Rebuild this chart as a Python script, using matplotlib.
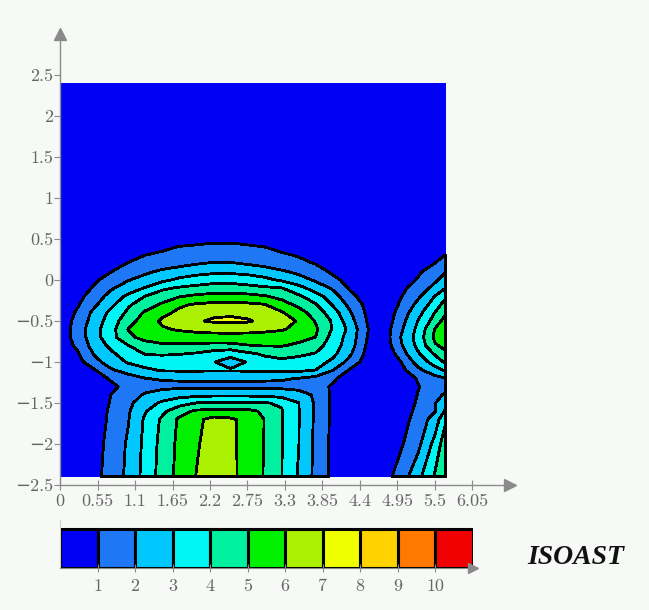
import numpy as np
import matplotlib.pyplot as plt

# grid nodes of the ISOAST field
x_nodes = [0, 0.25, 0.5, 0.75, 1.0, 1.25, 1.5, 1.75, 2.0, 2.25, 2.5, 2.75,
           3.0, 3.25, 3.5, 3.75, 4.0, 4.25, 4.5, 4.75, 5.0, 5.25, 5.5, 5.65]
y_nodes = [-2.4, -2.0, -1.7, -1.6, -1.5, -1.4, -1.3, -1.2, -1.1, -1.0, -0.9,
           -0.8, -0.7, -0.6, -0.5, -0.4, -0.3, -0.2, -0.1, 0.0, 0.1, 0.2,
           0.3, 0.4, 0.5, 0.6, 2.4]

# one row per y node, bottom to top
isoast = [
    [0, 0.1, 0.7, 1.39, 2.23, 3.35, 4.42, 5.31, 6.03, 6.55, 6.22, 5.64, 4.93, 4.02, 2.9, 1.74, 0.76, 0.1, 0, 0.58, 1.46, 2.7, 4.13, 4.8],
    [0, 0.05, 0.62, 1.31, 2.14, 3.26, 4.33, 5.24, 5.89, 6.45, 6.2, 5.67, 4.96, 4.04, 3.02, 1.77, 0.76, 0.1, 0, 0.1, 0.88, 1.72, 3.33, 4.58],
    [0, 0, 0.52, 1.18, 1.94, 3.16, 4.17, 5.15, 5.78, 6.3, 6.15, 5.71, 4.98, 4.07, 3.04, 1.82, 0.79, 0.1, 0, 0, 0.62, 1.36, 2.47, 3.8],
    [0, 0, 0.5, 1.15, 1.88, 2.93, 3.77, 4.65, 5.15, 5.28, 5.3, 5.25, 4.84, 4.07, 3.04, 1.82, 0.8, 0.1, 0, 0, 0.55, 1.2, 1.94, 3.1],
    [0, 0, 0.35, 1.08, 1.78, 2.53, 3.18, 3.6, 4.02, 4.1, 4.1, 4.1, 4.05, 3.9, 3.02, 1.85, 0.8, 0.1, 0, 0, 0.4, 1.12, 1.95, 2.75],
    [0, 0, 0.3, 1.01, 1.6, 2.1, 2.4, 2.65, 2.75, 2.8, 2.8, 2.8, 2.75, 2.6, 2.4, 1.85, 0.8, 0.1, 0, 0, 0.35, 1.03, 1.75, 2.1],
    [0, 0, 0.1, 0.75, 1.35, 1.65, 1.78, 1.8, 1.8, 1.8, 1.8, 1.8, 1.8, 1.78, 1.68, 1.5, 0.85, 0.2, 0, 0, 0.3, 0.95, 1.4, 1.6],
    [0, 0, 0.45, 1.15, 1.6, 1.98, 2.08, 2.1, 2.1, 2.1, 2.1, 2.1, 2.1, 2.08, 1.97, 1.7, 1.2, 0.45, 0.1, 0, 0.4, 1.08, 1.65, 1.95],
    [0.05, 0.2, 0.9, 1.88, 2.37, 2.8, 3.08, 3.12, 3.12, 3.1, 3.1, 3.12, 3.15, 3.2, 3.18, 2.98, 2.02, 0.9, 0.3, 0, 0.7, 1.75, 2.65, 3.1],
    [0.15, 0.6, 1.65, 2.47, 3.1, 3.45, 3.5, 3.45, 3.35, 3.05, 2.6, 3.05, 3.6, 3.8, 3.7, 3.45, 2.77, 1.67, 0.55, 0.1, 0.97, 2.4, 3.4, 4.15],
    [0.25, 0.85, 2.06, 2.82, 3.49, 4.05, 4.1, 4.05, 3.9, 3.55, 3.3, 3.8, 4.15, 4.3, 4.15, 3.95, 3.26, 2.16, 0.73, 0.0, 1.57, 2.86, 4.12, 4.85],
    [0.35, 1.18, 2.39, 3.24, 3.97, 4.65, 4.85, 4.85, 4.8, 4.72, 4.74, 4.95, 5.05, 5.05, 4.85, 4.42, 3.5, 2.48, 0.9, 0.31, 1.88, 3.25, 4.9, 5.2],
    [0.4, 1.38, 2.58, 3.63, 4.82, 5.25, 5.45, 5.55, 5.58, 5.6, 5.6, 5.6, 5.55, 5.45, 5.25, 4.98, 3.63, 2.6, 1.02, 0.44, 2.02, 3.4, 5.2, 5.6],
    [0.4, 1.4, 2.64, 3.63, 5.03, 5.45, 5.9, 6.1, 6.25, 6.35, 6.4, 6.35, 6.25, 6.1, 5.74, 5.16, 3.91, 2.75, 1.05, 0.45, 1.83, 3.25, 5.05, 5.6],
    [0.35, 1.3, 2.41, 3.52, 4.58, 5.5, 6.15, 6.52, 6.9, 7.12, 7.15, 7.1, 6.79, 6.4, 5.92, 4.92, 3.88, 2.41, 0.99, 0.32, 1.63, 3.02, 4.43, 5.4],
    [0.3, 1.12, 2.25, 3.26, 4.2, 5.15, 5.76, 6.2, 6.55, 6.8, 6.88, 6.7, 6.45, 6.1, 5.43, 4.56, 3.5, 2.12, 0.85, 0.25, 1.43, 2.65, 4.03, 4.85],
    [0.2, 0.87, 1.81, 2.77, 3.86, 4.52, 5.14, 5.86, 6.1, 6.22, 6.25, 6.18, 6.04, 5.44, 4.76, 4.08, 2.91, 1.74, 0.74, 0.1, 1.17, 2.25, 3.5, 4.4],
    [0.15, 0.65, 1.48, 2.36, 3.22, 4.02, 4.47, 4.95, 5.2, 5.35, 5.4, 5.3, 5.1, 4.69, 4.17, 3.43, 2.45, 1.3, 0.54, 0.35, 0.94, 1.82, 3.03, 3.7],
    [0.1, 0.45, 1.11, 1.89, 2.49, 3.07, 3.85, 4.12, 4.28, 4.38, 4.4, 4.3, 4.17, 4.05, 3.35, 2.56, 1.88, 0.9, 0.45, 0.3, 0.75, 1.45, 2.3, 2.98],
    [0.1, 0.45, 0.85, 1.37, 1.95, 2.38, 2.79, 3.2, 3.5, 3.7, 3.72, 3.55, 3.25, 2.87, 2.38, 1.88, 1.2, 0.75, 0.4, 0.2, 0.55, 1.08, 1.85, 2.4],
    [0.05, 0.3, 0.65, 0.99, 1.4, 1.82, 2.2, 2.45, 2.65, 2.8, 2.8, 2.7, 2.5, 2.15, 1.8, 1.35, 0.88, 0.55, 0.25, 0.1, 0.4, 0.85, 1.5, 1.95],
    [0, 0.15, 0.45, 0.75, 1.04, 1.27, 1.5, 1.72, 1.95, 2.08, 2.08, 1.93, 1.7, 1.45, 1.2, 0.97, 0.7, 0.4, 0.15, 0, 0.2, 0.55, 1.02, 1.5],
    [0, 0, 0.15, 0.45, 0.75, 1.01, 1.15, 1.3, 1.45, 1.58, 1.6, 1.5, 1.3, 1.12, 0.95, 0.65, 0.35, 0.1, 0, 0, 0.05, 0.35, 0.75, 1.02],
    [0, 0, 0, 0.05, 0.25, 0.55, 0.85, 1.04, 1.1, 1.2, 1.2, 1.1, 1.01, 0.8, 0.5, 0.2, 0, 0, 0, 0, 0, 0.1, 0.4, 0.7],
    [0, 0, 0, 0, 0, 0.2, 0.45, 0.65, 0.75, 0.8, 0.8, 0.75, 0.65, 0.45, 0.2, 0, 0, 0, 0, 0, 0, 0, 0.2, 0.5],
    [0, 0, 0, 0, 0, 0.05, 0.15, 0.25, 0.3, 0.3, 0.3, 0.3, 0.25, 0.15, 0.05, 0, 0, 0, 0, 0, 0, 0, 0.05, 0.3],
    [0, 0, 0, 0, 0, 0, 0, 0, 0, 0, 0, 0, 0, 0, 0, 0, 0, 0, 0, 0, 0, 0, 0, 0],
]

band_edges = [-1, 1, 2, 3, 4, 5, 6, 7, 8, 9, 10, 11]
band_low = [0, 1, 2, 3, 4, 5, 6, 7, 8, 9, 10]
band_colors = ['#0000f5', '#1e78f5', '#00c8ff', '#00f5f5', '#00f0a0', '#00f000',
               '#aaf000', '#f0ff00', '#ffd200', '#ff7800', '#f00000']
cb_ticks = [1, 2, 3, 4, 5, 6, 7, 8, 9, 10]

x_ticks = [0, 0.55, 1.1, 1.65, 2.2, 2.75, 3.3, 3.85, 4.4, 4.95, 5.5, 6.05]
x_labels = ['0', '0.55', '1.1', '1.65', '2.2', '2.75', '3.3', '3.85', '4.4', '4.95', '5.5', '6.05']
y_ticks = [-2.5, -2, -1.5, -1, -0.5, 0, 0.5, 1, 1.5, 2, 2.5]
y_labels = ['\u22122.5', '\u22122', '\u22121.5', '\u22121', '\u22120.5', '0', '0.5', '1', '1.5', '2', '2.5']

bg = '#f6f9f6'
grey = '#8a8a8a'
tick_font = dict(family=['cmr10', 'DejaVu Serif'], size=13, color='#666666')

fig = plt.figure(figsize=(6.49, 6.10), dpi=100, facecolor=bg)

# main contour plot
ax = fig.add_axes([60 / 649, 125 / 610, 450 / 649, 451 / 610])
ax.set_facecolor(bg)
cs = ax.contourf(x_nodes, y_nodes, np.array(isoast), levels=band_edges, colors=band_colors)
cs.set_edgecolor(['none'] + ['k'] * (len(band_colors) - 1))
cs.set_linewidth(1.3)

ax.set_xlim(0, 6.6)
ax.set_ylim(-2.5, 3.0)
for side in ['top', 'right']:
    ax.spines[side].set_visible(False)
for side in ['left', 'bottom']:
    ax.spines[side].set_color(grey)
    ax.spines[side].set_linewidth(1.0)
ax.plot(1, 0, '>', ms=8, color=grey, transform=ax.transAxes, clip_on=False)
ax.plot(0, 1, '^', ms=8, color=grey, transform=ax.transAxes, clip_on=False)

ax.set_xticks(x_ticks)
ax.set_xticklabels(x_labels, **tick_font)
ax.set_yticks(y_ticks)
ax.set_yticklabels(y_labels, **tick_font)
ax.tick_params(axis='x', direction='inout', length=7, width=0.8, color=grey, pad=3)
ax.tick_params(axis='y', direction='out', length=4, width=0.8, color=grey, pad=1)

# legend bar
cax = fig.add_axes([60 / 649, 42 / 610, 412.7 / 649, 48 / 610])
cax.set_facecolor(bg)
cax.bar(band_low, 1, width=1, align='edge', color=band_colors, edgecolor='k', linewidth=2.2)
cax.set_xlim(0, 11)
cax.set_ylim(0, 1.24)
for side in ['top', 'right']:
    cax.spines[side].set_visible(False)
cax.spines['left'].set_color('#d0d0d0')
cax.spines['bottom'].set_color(grey)
cax.set_yticks([])
cax.set_xticks(cb_ticks)
cax.set_xticklabels([str(t) for t in cb_ticks], **tick_font)
cax.tick_params(axis='x', direction='inout', length=6, width=0.8, color=grey, pad=5)
cax.plot(1, 0, '>', ms=7, color=grey, transform=cax.transAxes, clip_on=False)

fig.text(527 / 649, (610 - 557) / 610, 'ISOAST', family='Liberation Serif',
         weight='bold', style='italic', size=20, va='center', color='#111111')

fig.savefig('out.png', dpi=100, facecolor=bg)
